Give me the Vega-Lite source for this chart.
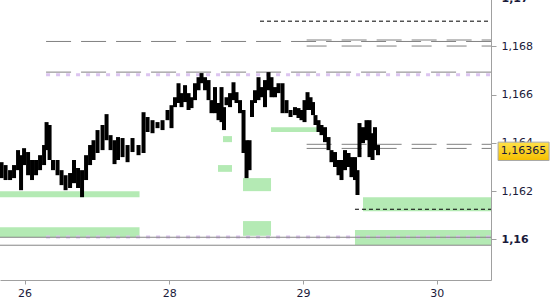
{
  "$schema": "https://vega.github.io/schema/vega-lite/v6.json",
  "width": 491,
  "height": 282,
  "autosize": {"type": "none"},
  "padding": {"left": 0, "top": -2, "right": 59, "bottom": 20},
  "background": "white",
  "config": {"view": {"stroke": null}},
  "datasets": {
    "zones": [
      {"t": -30.4, "t2": -5.35, "p": 1.16200, "p2": 1.16175},
      {"t": -30.4, "t2": -5.35, "p": 1.16051, "p2": 1.16009},
      {"t": 8.74, "t2": 11.25, "p": 1.16308, "p2": 1.16280},
      {"t": 13.23, "t2": 18.26, "p": 1.16254, "p2": 1.16200},
      {"t": 13.23, "t2": 18.26, "p": 1.16076, "p2": 1.16015},
      {"t": 9.64, "t2": 11.25, "p": 1.16428, "p2": 1.16403},
      {"t": 18.26, "t2": 26.51, "p": 1.16465, "p2": 1.16445},
      {"t": 34.77, "t2": 57.75, "p": 1.16175, "p2": 1.16117},
      {"t": 33.33, "t2": 57.75, "p": 1.16039, "p2": 1.15977}
    ],
    "levels": [
      {"kind": "zone", "t": -22.13, "t2": 57.75, "p": 1.16682},
      {"kind": "zone", "t": -22.13, "t2": 57.75, "p": 1.16010},
      {"kind": "pivot", "t": -22.13, "t2": 57.75, "p": 1.16820},
      {"kind": "pivot", "t": -22.13, "t2": 57.75, "p": 1.16693},
      {"kind": "pivot", "t": 24.65, "t2": 57.75, "p": 1.16826},
      {"kind": "pivot2", "t": 24.65, "t2": 57.75, "p": 1.16801},
      {"kind": "pivot", "t": 24.65, "t2": 57.75, "p": 1.16394},
      {"kind": "pivot2", "t": 24.65, "t2": 57.75, "p": 1.16377},
      {"kind": "target", "t": 16.28, "t2": 57.75, "p": 1.16904},
      {"kind": "target", "t": 33.33, "t2": 57.75, "p": 1.16125},
      {"kind": "support", "t": -30.4, "t2": 57.75, "p": 1.16009},
      {"kind": "support", "t": -30.4, "t2": 57.75, "p": 1.15976}
    ],
    "prices": [
      {"t": -30.12, "hi": 1.16320, "lo": 1.16254},
      {"t": -29.40, "hi": 1.16308, "lo": 1.16246},
      {"t": -28.59, "hi": 1.16287, "lo": 1.16246},
      {"t": -27.88, "hi": 1.16308, "lo": 1.16254},
      {"t": -27.16, "hi": 1.16370, "lo": 1.16287},
      {"t": -26.62, "hi": 1.16349, "lo": 1.16204},
      {"t": -26.08, "hi": 1.16378, "lo": 1.16308},
      {"t": -25.36, "hi": 1.16362, "lo": 1.16266},
      {"t": -24.65, "hi": 1.16329, "lo": 1.16246},
      {"t": -23.93, "hi": 1.16329, "lo": 1.16266},
      {"t": -23.21, "hi": 1.16349, "lo": 1.16287},
      {"t": -22.49, "hi": 1.16391, "lo": 1.16308},
      {"t": -22.04, "hi": 1.16486, "lo": 1.16370},
      {"t": -21.50, "hi": 1.16474, "lo": 1.16329},
      {"t": -20.88, "hi": 1.16329, "lo": 1.16287},
      {"t": -20.07, "hi": 1.16329, "lo": 1.16266},
      {"t": -19.35, "hi": 1.16287, "lo": 1.16225},
      {"t": -18.63, "hi": 1.16266, "lo": 1.16204},
      {"t": -17.82, "hi": 1.16275, "lo": 1.16213},
      {"t": -17.11, "hi": 1.16329, "lo": 1.16233},
      {"t": -16.39, "hi": 1.16296, "lo": 1.16213},
      {"t": -15.67, "hi": 1.16287, "lo": 1.16175},
      {"t": -14.95, "hi": 1.16349, "lo": 1.16246},
      {"t": -14.23, "hi": 1.16391, "lo": 1.16308},
      {"t": -13.61, "hi": 1.16411, "lo": 1.16329},
      {"t": -12.89, "hi": 1.16453, "lo": 1.16358},
      {"t": -11.99, "hi": 1.16474, "lo": 1.16370},
      {"t": -11.27, "hi": 1.16519, "lo": 1.16411},
      {"t": -10.55, "hi": 1.16432, "lo": 1.16370},
      {"t": -9.84, "hi": 1.16411, "lo": 1.16312},
      {"t": -9.21, "hi": 1.16424, "lo": 1.16329},
      {"t": -8.40, "hi": 1.16420, "lo": 1.16341},
      {"t": -7.50, "hi": 1.16391, "lo": 1.16320},
      {"t": -6.61, "hi": 1.16420, "lo": 1.16362},
      {"t": -5.53, "hi": 1.16391, "lo": 1.16349},
      {"t": -4.63, "hi": 1.16527, "lo": 1.16358},
      {"t": -3.91, "hi": 1.16507, "lo": 1.16445},
      {"t": -3.02, "hi": 1.16494, "lo": 1.16440},
      {"t": -2.12, "hi": 1.16486, "lo": 1.16461},
      {"t": -1.22, "hi": 1.16494, "lo": 1.16453},
      {"t": -0.32, "hi": 1.16536, "lo": 1.16494},
      {"t": 0.39, "hi": 1.16556, "lo": 1.16461},
      {"t": 1.02, "hi": 1.16589, "lo": 1.16548},
      {"t": 1.65, "hi": 1.16647, "lo": 1.16565},
      {"t": 2.19, "hi": 1.16606, "lo": 1.16548},
      {"t": 2.82, "hi": 1.16639, "lo": 1.16569},
      {"t": 3.45, "hi": 1.16606, "lo": 1.16536},
      {"t": 3.98, "hi": 1.16589, "lo": 1.16544},
      {"t": 4.61, "hi": 1.16647, "lo": 1.16577},
      {"t": 5.24, "hi": 1.16672, "lo": 1.16618},
      {"t": 5.78, "hi": 1.16689, "lo": 1.16647},
      {"t": 6.41, "hi": 1.16672, "lo": 1.16618},
      {"t": 7.04, "hi": 1.16660, "lo": 1.16577},
      {"t": 7.57, "hi": 1.16577, "lo": 1.16523},
      {"t": 8.20, "hi": 1.16631, "lo": 1.16523},
      {"t": 8.83, "hi": 1.16565, "lo": 1.16494},
      {"t": 9.37, "hi": 1.16631, "lo": 1.16486},
      {"t": 9.82, "hi": 1.16548, "lo": 1.16453},
      {"t": 10.27, "hi": 1.16589, "lo": 1.16556},
      {"t": 10.90, "hi": 1.16606, "lo": 1.16548},
      {"t": 11.52, "hi": 1.16651, "lo": 1.16577},
      {"t": 12.06, "hi": 1.16610, "lo": 1.16565},
      {"t": 12.69, "hi": 1.16577, "lo": 1.16523},
      {"t": 13.32, "hi": 1.16536, "lo": 1.16358},
      {"t": 13.86, "hi": 1.16411, "lo": 1.16254},
      {"t": 14.40, "hi": 1.16411, "lo": 1.16287},
      {"t": 14.84, "hi": 1.16577, "lo": 1.16507},
      {"t": 15.38, "hi": 1.16618, "lo": 1.16565},
      {"t": 16.01, "hi": 1.16672, "lo": 1.16577},
      {"t": 16.55, "hi": 1.16631, "lo": 1.16589},
      {"t": 17.18, "hi": 1.16660, "lo": 1.16548},
      {"t": 17.81, "hi": 1.16693, "lo": 1.16618},
      {"t": 18.34, "hi": 1.16672, "lo": 1.16589},
      {"t": 18.97, "hi": 1.16631, "lo": 1.16589},
      {"t": 19.60, "hi": 1.16647, "lo": 1.16606},
      {"t": 20.32, "hi": 1.16647, "lo": 1.16523},
      {"t": 21.04, "hi": 1.16577, "lo": 1.16523},
      {"t": 21.76, "hi": 1.16536, "lo": 1.16507},
      {"t": 22.56, "hi": 1.16548, "lo": 1.16515},
      {"t": 23.19, "hi": 1.16544, "lo": 1.16503},
      {"t": 23.73, "hi": 1.16536, "lo": 1.16494},
      {"t": 24.27, "hi": 1.16577, "lo": 1.16486},
      {"t": 24.81, "hi": 1.16610, "lo": 1.16536},
      {"t": 25.35, "hi": 1.16589, "lo": 1.16536},
      {"t": 25.79, "hi": 1.16569, "lo": 1.16515},
      {"t": 26.24, "hi": 1.16515, "lo": 1.16474},
      {"t": 26.78, "hi": 1.16494, "lo": 1.16445},
      {"t": 27.32, "hi": 1.16474, "lo": 1.16432},
      {"t": 27.95, "hi": 1.16465, "lo": 1.16403},
      {"t": 28.58, "hi": 1.16424, "lo": 1.16370},
      {"t": 29.11, "hi": 1.16370, "lo": 1.16320},
      {"t": 29.74, "hi": 1.16362, "lo": 1.16300},
      {"t": 30.37, "hi": 1.16329, "lo": 1.16266},
      {"t": 30.91, "hi": 1.16329, "lo": 1.16246},
      {"t": 31.54, "hi": 1.16370, "lo": 1.16287},
      {"t": 32.17, "hi": 1.16358, "lo": 1.16300},
      {"t": 32.70, "hi": 1.16341, "lo": 1.16258},
      {"t": 33.33, "hi": 1.16341, "lo": 1.16246},
      {"t": 33.78, "hi": 1.16287, "lo": 1.16184},
      {"t": 34.14, "hi": 1.16482, "lo": 1.16341},
      {"t": 34.77, "hi": 1.16465, "lo": 1.16399},
      {"t": 35.40, "hi": 1.16494, "lo": 1.16411},
      {"t": 35.94, "hi": 1.16494, "lo": 1.16341},
      {"t": 36.48, "hi": 1.16440, "lo": 1.16329},
      {"t": 36.92, "hi": 1.16465, "lo": 1.16370},
      {"t": 37.46, "hi": 1.16391, "lo": 1.16349}
    ],
    "last": [
      {"t": 63.6, "p": 1.16365, "label": "1,16365"}
    ]
  },
  "layer": [
    {
      "data": {"name": "zones"},
      "mark": {"type": "rect", "fill": "#b4eab4"},
      "encoding": {
        "x": {"field": "t", "type": "quantitative", "scale": {"domain": [-30.4, 57.75], "nice": false, "zero": false},
              "axis": {"title": null, "values": [-26, 0, 24, 48], "labelExpr": "datum.value == -26 ? '26' : datum.value == 0 ? '28' : datum.value == 24 ? '29' : '30'", "grid": false, "domainColor": "#a0a0a0", "tickColor": "#a0a0a0", "tickSize": 4, "labelPadding": 3, "labelFont": "DejaVu Sans", "labelFontSize": 11, "labelColor": "#1a1a3a", "labelOverlap": false, "labelFlush": false}},
        "x2": {"field": "t2"},
        "y": {"field": "p", "type": "quantitative", "scale": {"domain": [1.15832, 1.17], "nice": false, "zero": false},
              "axis": {"orient": "right", "title": null, "values": [1.16, 1.162, 1.164, 1.166, 1.168, 1.17], "labelExpr": "replace(format(datum.value, '.3~f'), '.', ',')", "labelFontWeight": {"condition": {"test": "datum.value < 1.1601 || datum.value > 1.1699", "value": "bold"}, "value": "normal"}, "grid": false, "domainColor": "#a0a0a0", "tickColor": "#a0a0a0", "tickSize": 5, "labelPadding": 5, "labelFont": "DejaVu Sans", "labelFontSize": 11, "labelColor": "#1a1a3a", "labelOverlap": false, "labelFlush": false, "labelBound": false}},
        "y2": {"field": "p2"}
      }
    },
    {
      "data": {"name": "levels"},
      "transform": [{"filter": "datum.kind == 'zone'"}],
      "mark": {"type": "rule", "stroke": "#dcc4f0", "strokeWidth": 3, "strokeDash": [4, 6]},
      "encoding": {"x": {"field": "t", "type": "quantitative"}, "x2": {"field": "t2"}, "y": {"field": "p", "type": "quantitative"}}
    },
    {
      "data": {"name": "levels"},
      "transform": [{"filter": "datum.kind == 'pivot'"}],
      "mark": {"type": "rule", "stroke": "#808080", "strokeWidth": 1, "strokeDash": [25, 10]},
      "encoding": {"x": {"field": "t", "type": "quantitative"}, "x2": {"field": "t2"}, "y": {"field": "p", "type": "quantitative"}}
    },
    {
      "data": {"name": "levels"},
      "transform": [{"filter": "datum.kind == 'pivot2'"}],
      "mark": {"type": "rule", "stroke": "#808080", "strokeWidth": 1, "strokeDash": [20, 15]},
      "encoding": {"x": {"field": "t", "type": "quantitative"}, "x2": {"field": "t2"}, "y": {"field": "p", "type": "quantitative"}}
    },
    {
      "data": {"name": "levels"},
      "transform": [{"filter": "datum.kind == 'target'"}],
      "mark": {"type": "rule", "stroke": "#000000", "strokeWidth": 1, "strokeDash": [4, 3]},
      "encoding": {"x": {"field": "t", "type": "quantitative"}, "x2": {"field": "t2"}, "y": {"field": "p", "type": "quantitative"}}
    },
    {
      "data": {"name": "levels"},
      "transform": [{"filter": "datum.kind == 'support'"}],
      "mark": {"type": "rule", "stroke": "#858585", "strokeWidth": 1},
      "encoding": {"x": {"field": "t", "type": "quantitative"}, "x2": {"field": "t2"}, "y": {"field": "p", "type": "quantitative"}}
    },
    {
      "data": {"name": "prices"},
      "mark": {"type": "rule", "stroke": "#000000", "strokeWidth": 4},
      "encoding": {"x": {"field": "t", "type": "quantitative"}, "y": {"field": "hi", "type": "quantitative"}, "y2": {"field": "lo"}}
    },
    {
      "data": {"name": "last"},
      "mark": {"type": "point", "shape": "M-1,-0.36L1,-0.36L1,0.36L-1,0.36Z", "size": 2601, "filled": true, "opacity": 1, "stroke": "#a8a8a8", "strokeWidth": 1,
               "fill": {"gradient": "linear", "x1": 0, "y1": 0, "x2": 0, "y2": 1, "stops": [{"offset": 0, "color": "#ffe14a"}, {"offset": 1, "color": "#f5bf00"}]}},
      "encoding": {"x": {"field": "t", "type": "quantitative"}, "y": {"field": "p", "type": "quantitative"}}
    },
    {
      "data": {"name": "last"},
      "mark": {"type": "text", "font": "DejaVu Sans", "fontSize": 11, "color": "#1a1a3a", "align": "center", "baseline": "middle"},
      "encoding": {"x": {"field": "t", "type": "quantitative"}, "y": {"field": "p", "type": "quantitative"}, "text": {"field": "label"}}
    }
  ]
}
